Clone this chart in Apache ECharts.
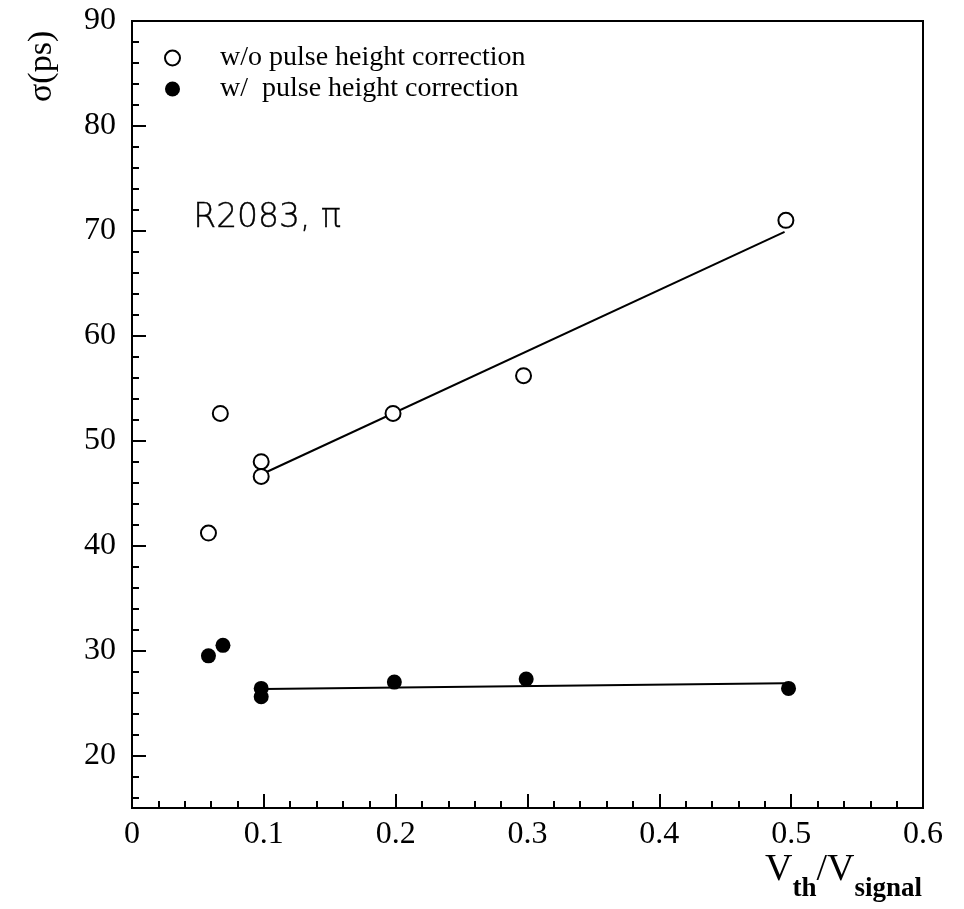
<!DOCTYPE html>
<html>
<head>
<meta charset="utf-8">
<script src="https://cdn.jsdelivr.net/npm/echarts@6/dist/echarts.min.js"></script>
<style>
  html, body { margin: 0; padding: 0; background: #fff; }
  #chart { width: 964px; height: 909px; }
</style>
</head>
<body>
<div id="chart"></div>
<script>
// measured points, w/o pulse height correction (open circles)
const openX = [0.058, 0.067, 0.098, 0.098, 0.198, 0.297, 0.496];
const openY = [41.2, 52.6, 48.0, 46.6, 52.6, 56.2, 71.0];

// measured points, w/ pulse height correction (filled circles)
const filledX = [0.058, 0.069, 0.098, 0.098, 0.199, 0.299, 0.498];
const filledY = [29.5, 30.5, 26.4, 25.6, 27.0, 27.3, 26.4];

// straight-line fits drawn through the points from 0.1 up
const openFitX = [0.1, 0.495];
const openFitY = [46.9, 69.9];
const filledFitX = [0.1, 0.495];
const filledFitY = [26.35, 26.9];

// y axis ticks (axis starts at 15, labels every 10)
const yTicks = [20, 30, 40, 50, 60, 70, 80, 90];
const yMinorTicks = [16, 18, 22, 24, 26, 28, 32, 34, 36, 38, 42, 44, 46, 48,
  52, 54, 56, 58, 62, 64, 66, 68, 72, 74, 76, 78, 82, 84, 86, 88];

const legendNames = ['w/o pulse height correction', 'w/  pulse height correction'];

const zip = (xs, ys) => xs.map((x, i) => [x, ys[i]]);

const serif = '"Liberation Serif", "DejaVu Serif", serif';

const chart = echarts.init(document.getElementById('chart'));

chart.setOption({
  animation: false,
  backgroundColor: '#fff',
  grid: {
    left: 132, right: 41, top: 21, bottom: 101,
    show: true, borderColor: '#000', borderWidth: 2
  },
  legend: {
    data: legendNames,
    orient: 'vertical',
    left: 159, top: 39,
    itemWidth: 15, itemHeight: 15,
    itemGap: 3,
    selectedMode: false,
    textStyle: { fontFamily: serif, fontSize: 28, color: '#000', padding: [0, 0, 0, 35], lineHeight: 28 }
  },
  xAxis: {
    type: 'value',
    min: 0, max: 0.6, interval: 0.1,
    axisLine: { lineStyle: { color: '#000', width: 2 } },
    axisTick: { inside: true, length: 14, lineStyle: { color: '#000', width: 2 } },
    minorTick: { show: true, splitNumber: 5, length: 7, lineStyle: { color: '#000', width: 2 } },
    splitLine: { show: false },
    axisLabel: { fontFamily: serif, fontSize: 32, color: '#000', margin: 11 }
  },
  yAxis: [
    {
      type: 'value',
      min: 15, max: 90,
      axisLine: { show: true, lineStyle: { color: '#000', width: 2 } },
      axisTick: { inside: true, length: 14, customValues: yTicks, lineStyle: { color: '#000', width: 2 } },
      axisLabel: { customValues: yTicks, fontFamily: serif, fontSize: 32, color: '#000', margin: 16 },
      splitLine: { show: false }
    },
    {
      type: 'value',
      min: 15, max: 90,
      position: 'left',
      axisLine: { show: false },
      axisTick: { inside: true, length: 7, customValues: yMinorTicks, lineStyle: { color: '#000', width: 2 } },
      axisLabel: { show: false },
      splitLine: { show: false }
    }
  ],
  graphic: [
    {
      type: 'text', left: 193, top: 202,
      style: { text: 'R2083, π', font: '200 33px "DejaVu Sans", "Liberation Sans", sans-serif', fill: '#000', stroke: '#000', lineWidth: 0.4 }
    },
    {
      type: 'text', x: 25, y: 102, rotation: Math.PI / 2,
      style: { text: 'σ(ps)', font: '34px ' + serif, fill: '#000' }
    },
    {
      type: 'text', left: 765, top: 851,
      style: {
        text: '{v|V}{s|th}{v|/V}{s|signal}',
        fill: '#000',
        rich: {
          v: { fontFamily: serif, fontSize: 38, lineHeight: 38, padding: [0, 0, 14, 0] },
          s: { fontFamily: serif, fontSize: 27, fontWeight: 'bold', lineHeight: 27, padding: [25, 0, 0, 0] }
        }
      }
    }
  ],
  series: [
    {
      name: 'open fit',
      type: 'line',
      data: zip(openFitX, openFitY),
      symbol: 'none',
      lineStyle: { color: '#000', width: 2 },
      z: 1
    },
    {
      name: 'filled fit',
      type: 'line',
      data: zip(filledFitX, filledFitY),
      symbol: 'none',
      lineStyle: { color: '#000', width: 2 },
      z: 1
    },
    {
      name: legendNames[0],
      type: 'scatter',
      data: zip(openX, openY),
      symbol: 'circle',
      symbolSize: 15,
      itemStyle: { color: '#fff', borderColor: '#000', borderWidth: 2, opacity: 1 },
      z: 3
    },
    {
      name: legendNames[1],
      type: 'scatter',
      data: zip(filledX, filledY),
      symbol: 'circle',
      symbolSize: 15,
      itemStyle: { color: '#000', opacity: 1 },
      z: 3
    }
  ]
});
</script>
</body>
</html>
